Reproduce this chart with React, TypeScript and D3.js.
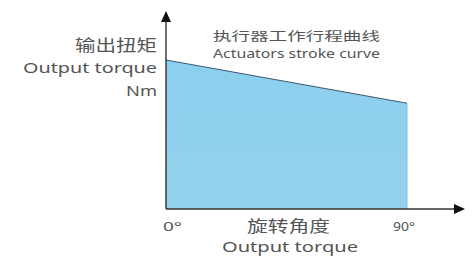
import React, { useEffect, useRef } from 'react'
import * as d3 from 'd3'

const angles = [0, 90]
const torque = [100, 71]
const xTicks = ['0°', '90°']
const yLabel = ['输出扭矩', 'Output torque', 'Nm']
const title = ['执行器工作行程曲线', 'Actuators stroke curve']
const xLabel = ['旋转角度', 'Output torque']

const W = 474
const H = 258

const App = () => {
  const svgRef = useRef<SVGSVGElement>(null)

  useEffect(() => {
    const svg = d3.select(svgRef.current)
    svg.selectAll('*').remove()

    const x = d3.scaleLinear([0, 90], [166, 407])
    const y = d3.scaleLinear([0, 100], [209, 60])
    const data = angles.map((a, i) => [a, torque[i]])

    const grad = svg.append('defs').append('linearGradient')
      .attr('id', 'fillg').attr('x1', 0).attr('x2', 0).attr('y1', 0).attr('y2', 1)
    grad.append('stop').attr('offset', '0%').attr('stop-color', '#8ccfee')
    grad.append('stop').attr('offset', '100%').attr('stop-color', '#93d2ec')

    const area = d3.area<number[]>().x(d => x(d[0])).y0(y(0)).y1(d => y(d[1]))
    svg.append('path').datum(data).attr('d', area)
      .attr('fill', 'url(#fillg)')
    svg.append('line')
      .attr('x1', x(90)).attr('x2', x(90)).attr('y1', y(torque[1])).attr('y2', y(0))
      .attr('stroke', '#7cc3e4').attr('stroke-width', 1)
    const line = d3.line<number[]>().x(d => x(d[0])).y(d => y(d[1]))
    svg.append('path').datum(data).attr('d', line)
      .attr('fill', 'none').attr('stroke', '#3a5870').attr('stroke-width', 1)

    // axes
    svg.append('line').attr('x1', x(0)).attr('x2', x(0)).attr('y1', 20).attr('y2', y(0))
      .attr('stroke', '#222').attr('stroke-width', 1.3)
    svg.append('path').attr('d', `M${x(0)},11 L${x(0) - 5},22 L${x(0) + 5},22 Z`).attr('fill', '#111')
    svg.append('line').attr('x1', x(0)).attr('x2', 456).attr('y1', y(0)).attr('y2', y(0))
      .attr('stroke', '#333').attr('stroke-width', 1.3)
    svg.append('path').attr('d', `M465,${y(0)} L454,${y(0) - 5} L454,${y(0) + 5} Z`).attr('fill', '#111')

    const txt = (s: string, tx: number, ty: number, size: number, len: number) =>
      svg.append('text').text(s).attr('x', tx).attr('y', ty)
        .attr('font-family', '"Noto Sans", "Noto Sans CJK SC", sans-serif')
        .attr('font-size', size).attr('fill', '#555')
        .attr('textLength', len).attr('lengthAdjust', 'spacingAndGlyphs')

    txt(yLabel[0], 75, 51, 16, 82)
    txt(yLabel[1], 23, 73, 15, 134)
    txt(yLabel[2], 126, 96, 15, 31)
    txt(title[0], 213, 41, 12.5, 167)
    txt(title[1], 213, 58, 12.5, 167)
    txt(xTicks[0], x(0) - 3, 231, 13, 19)
    txt(xTicks[1], x(90) - 14, 231, 13, 22)
    txt(xLabel[0], 247, 232, 16, 83)
    txt(xLabel[1], 222, 252, 15, 136)
  }, [])

  return (
    <svg ref={svgRef} width={W} height={H}
      style={{ position: 'absolute', left: 0, top: 0, background: '#fff' }} />
  )
}

export default App
